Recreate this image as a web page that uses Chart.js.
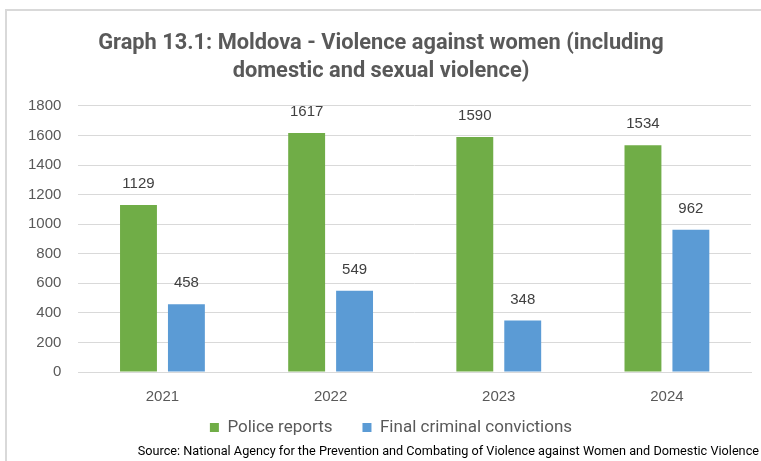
<!DOCTYPE html>
<html>
<head>
<meta charset="utf-8">
<script src="https://cdn.jsdelivr.net/npm/chart.js@4.4.1/dist/chart.umd.min.js"></script>
<style>
    body { margin: 0; background: #fff; }
    #wrap { position: absolute; left: 0; top: 0; width: 761px; height: 461px; }
    #frame {
        position: absolute; left: 5px; top: 9px; right: 0; bottom: 0;
        border-left: 2px solid #d9d9d9; border-top: 2px solid #d9d9d9;
        pointer-events: none;
    }
</style>
</head>
<body>
<div id="wrap">
    <canvas id="violence-chart" width="761" height="461"></canvas>
    <div id="frame"></div>
</div>
<script>
const years = ['2021', '2022', '2023', '2024'];
const policeReports = [1129, 1617, 1590, 1534];
const finalConvictions = [458, 549, 348, 962];
const yTicks = [0, 200, 400, 600, 800, 1000, 1200, 1400, 1600, 1800];
const titleLines = ['Graph 13.1: Moldova - Violence against women (including', 'domestic and sexual violence)'];
const sourceText = 'Source: National Agency for the Prevention and Combating of Violence against Women and Domestic Violence';

const legendShrink = 35;
const legendLift = 33;
const legendNudge = 10;

// draws the value above each bar
const valueLabels = {
    id: 'valueLabels',
    afterDatasetsDraw(chart) {
        const ctx = chart.ctx;
        ctx.save();
        ctx.font = '15px "Liberation Sans", Arial, sans-serif';
        ctx.fillStyle = '#404040';
        ctx.textAlign = 'center';
        ctx.textBaseline = 'middle';
        chart.data.datasets.forEach((ds, i) => {
            chart.getDatasetMeta(i).data.forEach((bar, j) => {
                ctx.fillText(ds.data[j], bar.x, bar.y - 21);
            });
        });
        ctx.restore();
    }
};

// legend needs wide gaps between items but little space above it,
// so shrink its box and pull its top up under the year labels
const tightLegend = {
    id: 'tightLegend',
    afterInit(chart) {
        const legend = chart.legend;
        const fit = legend.fit;
        legend.fit = function () {
            fit.call(this);
            this.height -= legendShrink;
        };
    },
    afterLayout(chart) {
        const legend = chart.legend;
        legend.top -= legendLift;
        legend.left += legendNudge;
        legend.right += legendNudge;
    }
};

// source line in the bottom right corner
const sourceNote = {
    id: 'sourceNote',
    afterDraw(chart) {
        const ctx = chart.ctx;
        ctx.save();
        ctx.font = '12.7px "Liberation Sans Narrow", "Roboto", sans-serif';
        ctx.fillStyle = '#000';
        ctx.textAlign = 'right';
        ctx.textBaseline = 'middle';
        ctx.fillText(sourceText, 759, 452);
        ctx.restore();
    }
};

new Chart(document.getElementById('violence-chart'), {
    type: 'bar',
    data: {
        labels: years,
        datasets: [
            {
                label: 'Police reports',
                data: policeReports,
                backgroundColor: '#70AD47',
                categoryPercentage: 0.57,
                barPercentage: 0.77
            },
            {
                label: 'Final criminal convictions',
                data: finalConvictions,
                backgroundColor: '#5B9BD5',
                categoryPercentage: 0.57,
                barPercentage: 0.77
            }
        ]
    },
    options: {
        responsive: false,
        animation: false,
        layout: {
            padding: { top: 10, left: 11, right: 10, bottom: 17 }
        },
        plugins: {
            tooltip: { enabled: false },
            title: {
                display: true,
                text: titleLines,
                color: '#595959',
                font: { family: '"Liberation Sans Narrow", "Roboto", sans-serif', size: 21.8, weight: 'bold', lineHeight: 1.26 },
                padding: { top: 20, bottom: 21 }
            },
            legend: {
                position: 'bottom',
                labels: {
                    color: '#595959',
                    font: { family: 'Roboto, sans-serif', size: 17 },
                    boxWidth: 9,
                    boxHeight: 9,
                    padding: 30
                }
            }
        },
        scales: {
            x: {
                grid: { display: false, drawTicks: false },
                border: { display: true, color: '#d9d9d9', width: 1 },
                ticks: {
                    color: '#595959',
                    font: { family: '"Liberation Sans", Arial, sans-serif', size: 15 },
                    padding: 16
                }
            },
            y: {
                min: 0,
                max: 1800,
                afterBuildTicks(axis) {
                    axis.ticks = yTicks.map(v => ({ value: v }));
                },
                grid: { color: '#d9d9d9', lineWidth: 1, drawTicks: false },
                border: { display: false },
                ticks: {
                    color: '#595959',
                    font: { family: '"Liberation Sans", Arial, sans-serif', size: 15 },
                    padding: 17,
                    callback: v => String(v)
                }
            }
        }
    },
    plugins: [valueLabels, tightLegend, sourceNote]
});
</script>
</body>
</html>
